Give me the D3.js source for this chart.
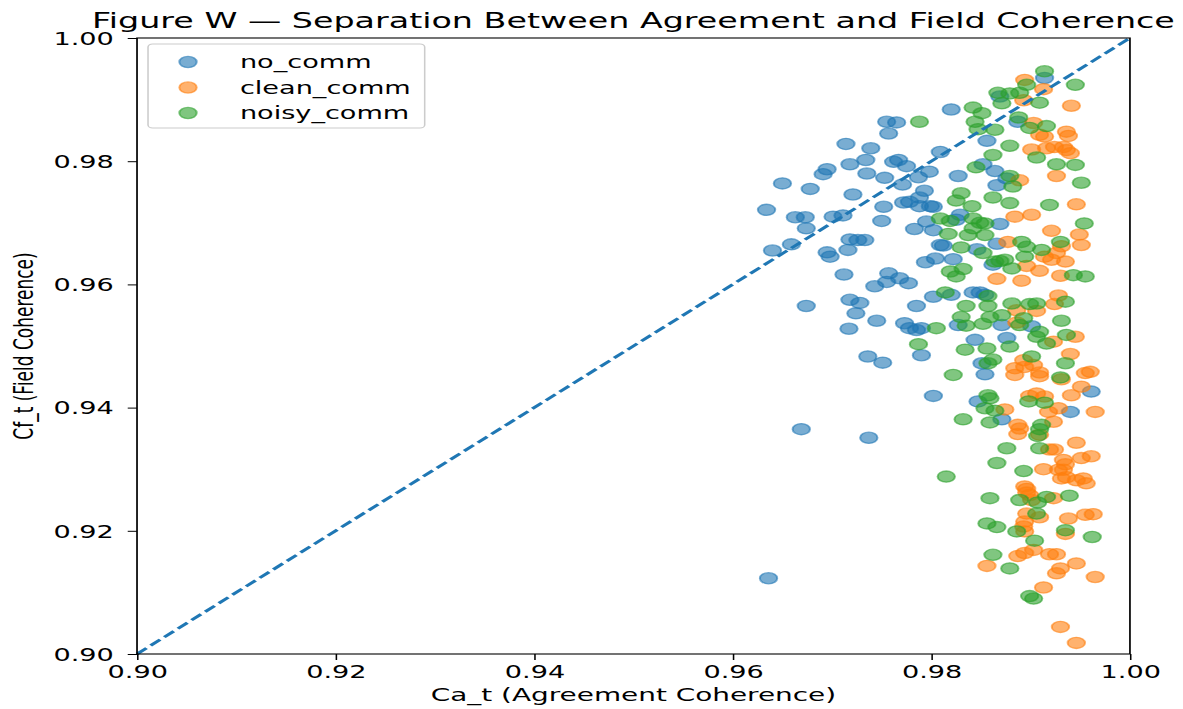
<!DOCTYPE html>
<html lang="en">
  <head>
    <meta charset="UTF-8" />
    <script src="https://cdn.jsdelivr.net/npm/d3@7"></script>
    <title>Figure W</title>
    <style>
      body {
        margin: 0;
        background: #fff;
      }
      text {
        font-family: "DejaVu Sans", sans-serif;
        fill: #000;
      }
    </style>
  </head>
  <body>
    <script>
      /*------------------- data (Ca_t, Cf_t) -------------------*/
      const noComm = [
        [0.9636,0.9123],[0.9669,0.9365],[0.9737,0.9351],[0.9634,0.9721],[0.9640,0.9655],[0.9650,0.9764],
        [0.9659,0.9665],[0.9663,0.9709],[0.9673,0.9709],[0.9674,0.9691],[0.9674,0.9565],[0.9678,0.9755],
        [0.9691,0.9779],[0.9695,0.9787],[0.9695,0.9652],[0.9698,0.9645],[0.9701,0.9710],[0.9711,0.9712],
        [0.9714,0.9828],[0.9712,0.9616],[0.9718,0.9795],[0.9716,0.9656],[0.9718,0.9673],[0.9718,0.9575],
        [0.9717,0.9528],[0.9721,0.9746],[0.9724,0.9553],[0.9726,0.9672],[0.9728,0.9570],[0.9733,0.9672],
        [0.9734,0.9802],[0.9735,0.9780],[0.9736,0.9483],[0.9739,0.9821],[0.9743,0.9597],[0.9745,0.9541],
        [0.9751,0.9473],[0.9750,0.9703],[0.9752,0.9726],[0.9753,0.9773],[0.9755,0.9864],[0.9757,0.9845],
        [0.9755,0.9604],[0.9757,0.9618],[0.9765,0.9863],[0.9762,0.9799],[0.9767,0.9802],[0.9768,0.9610],
        [0.9771,0.9762],[0.9772,0.9733],[0.9773,0.9537],[0.9775,0.9792],[0.9777,0.9602],[0.9778,0.9734],
        [0.9778,0.9529],[0.9783,0.9690],[0.9785,0.9565],[0.9785,0.9526],[0.9787,0.9774],[0.9788,0.9741],
        [0.9788,0.9727],[0.9790,0.9529],[0.9790,0.9485],[0.9793,0.9752],[0.9794,0.9636],[0.9795,0.9702],
        [0.9798,0.9783],[0.9799,0.9727],[0.9802,0.9726],[0.9802,0.9688],[0.9804,0.9642],[0.9802,0.9580],
        [0.9802,0.9419],[0.9809,0.9815],[0.9809,0.9664],[0.9820,0.9884],[0.9827,0.9776],[0.9829,0.9713],
        [0.9825,0.9705],[0.9869,0.9698],[0.9812,0.9663],[0.9846,0.9657],[0.9866,0.9666],[0.9822,0.9641],
        [0.9862,0.9632],[0.9820,0.9583],[0.9842,0.9587],[0.9849,0.9587],[0.9854,0.9583],[0.9827,0.9534],
        [0.9871,0.9534],[0.9901,0.9532],[0.9844,0.9510],[0.9876,0.9513],[0.9851,0.9472],[0.9854,0.9454],
        [0.9847,0.9410],[0.9871,0.9381],[0.9940,0.9393],[0.9961,0.9426],[0.9914,0.9935],[0.9869,0.9905],
        [0.9887,0.9864],[0.9856,0.9833],[0.9852,0.9795],[0.9864,0.9784],[0.9876,0.9772],[0.9866,0.9761]
      ];

      const cleanComm = [
        [0.9894,0.9932],[0.9913,0.9917],[0.9893,0.9899],[0.9941,0.9890],[0.9903,0.9862],[0.9909,0.9843],
        [0.9914,0.9840],[0.9936,0.9848],[0.9938,0.9841],[0.9901,0.9819],[0.9916,0.9821],[0.9924,0.9823],
        [0.9933,0.9823],[0.9936,0.9818],[0.9940,0.9813],[0.9889,0.9769],[0.9926,0.9776],[0.9946,0.9730],
        [0.9884,0.9710],[0.9901,0.9713],[0.9921,0.9687],[0.9949,0.9681],[0.9877,0.9669],[0.9931,0.9662],
        [0.9951,0.9664],[0.9926,0.9651],[0.9914,0.9645],[0.9921,0.9640],[0.9935,0.9637],[0.9896,0.9630],
        [0.9909,0.9622],[0.9866,0.9609],[0.9891,0.9606],[0.9930,0.9614],[0.9928,0.9582],[0.9924,0.9568],
        [0.9886,0.9558],[0.9906,0.9557],[0.9886,0.9538],[0.9923,0.9507],[0.9945,0.9515],[0.9940,0.9487],
        [0.9893,0.9477],[0.9884,0.9464],[0.9884,0.9453],[0.9894,0.9466],[0.9903,0.9469],[0.9909,0.9457],
        [0.9909,0.9451],[0.9931,0.9446],[0.9955,0.9456],[0.9960,0.9458],[0.9874,0.9397],[0.9899,0.9419],
        [0.9906,0.9423],[0.9914,0.9418],[0.9918,0.9393],[0.9928,0.9399],[0.9951,0.9434],[0.9941,0.9420],
        [0.9965,0.9393],[0.9923,0.9377],[0.9887,0.9372],[0.9889,0.9366],[0.9887,0.9357],[0.9909,0.9356],
        [0.9919,0.9332],[0.9924,0.9332],[0.9946,0.9343],[0.9961,0.9321],[0.9951,0.9318],[0.9933,0.9315],
        [0.9935,0.9308],[0.9933,0.9299],[0.9913,0.9300],[0.9928,0.9299],[0.9936,0.9287],[0.9946,0.9282],
        [0.9953,0.9285],[0.9956,0.9277],[0.9931,0.9285],[0.9894,0.9272],[0.9896,0.9268],[0.9896,0.9262],
        [0.9923,0.9253],[0.9899,0.9258],[0.9901,0.9250],[0.9896,0.9228],[0.9909,0.9222],[0.9938,0.9220],
        [0.9955,0.9226],[0.9963,0.9227],[0.9894,0.9215],[0.9893,0.9207],[0.9894,0.9199],[0.9935,0.9195],
        [0.9887,0.9159],[0.9894,0.9164],[0.9903,0.9169],[0.9919,0.9162],[0.9926,0.9162],[0.9856,0.9143],
        [0.9930,0.9139],[0.9926,0.9131],[0.9946,0.9147],[0.9965,0.9125],[0.9913,0.9108],[0.9930,0.9044],
        [0.9946,0.9018]
      ];

      const noisyComm = [
        [0.9914,0.9946],[0.9896,0.9924],[0.9945,0.9924],[0.9867,0.9911],[0.9879,0.9910],[0.9889,0.9911],
        [0.9871,0.9894],[0.9909,0.9895],[0.9842,0.9887],[0.9851,0.9878],[0.9844,0.9864],[0.9888,0.9871],
        [0.9899,0.9854],[0.9916,0.9857],[0.9847,0.9852],[0.9864,0.9851],[0.9788,0.9864],[0.9879,0.9825],
        [0.9862,0.9810],[0.9906,0.9806],[0.9845,0.9790],[0.9926,0.9795],[0.9945,0.9794],[0.9879,0.9776],
        [0.9882,0.9759],[0.9951,0.9765],[0.9830,0.9748],[0.9825,0.9736],[0.9862,0.9741],[0.9841,0.9727],
        [0.9879,0.9732],[0.9919,0.9729],[0.9954,0.9699],[0.9809,0.9707],[0.9819,0.9703],[0.9842,0.9707],
        [0.9849,0.9700],[0.9854,0.9699],[0.9842,0.9691],[0.9817,0.9682],[0.9837,0.9680],[0.9854,0.9680],
        [0.9830,0.9660],[0.9852,0.9651],[0.9891,0.9669],[0.9896,0.9661],[0.9930,0.9669],[0.9911,0.9656],
        [0.9894,0.9645],[0.9864,0.9637],[0.9869,0.9638],[0.9874,0.9640],[0.9881,0.9626],[0.9819,0.9621],
        [0.9832,0.9625],[0.9825,0.9613],[0.9943,0.9615],[0.9955,0.9613],[0.9814,0.9587],[0.9857,0.9581],
        [0.9835,0.9565],[0.9857,0.9565],[0.9881,0.9569],[0.9899,0.9568],[0.9906,0.9569],[0.9935,0.9572],
        [0.9830,0.9547],[0.9835,0.9533],[0.9852,0.9536],[0.9859,0.9547],[0.9871,0.9550],[0.9893,0.9545],
        [0.9889,0.9534],[0.9931,0.9541],[0.9909,0.9523],[0.9906,0.9515],[0.9916,0.9504],[0.9936,0.9518],
        [0.9834,0.9494],[0.9856,0.9496],[0.9879,0.9499],[0.9862,0.9478],[0.9857,0.9472],[0.9901,0.9483],
        [0.9935,0.9472],[0.9930,0.9449],[0.9822,0.9453],[0.9857,0.9420],[0.9859,0.9415],[0.9854,0.9399],
        [0.9864,0.9395],[0.9859,0.9376],[0.9832,0.9381],[0.9898,0.9410],[0.9914,0.9408],[0.9911,0.9372],
        [0.9909,0.9365],[0.9907,0.9354],[0.9876,0.9334],[0.9909,0.9334],[0.9866,0.9310],[0.9893,0.9297],
        [0.9815,0.9288],[0.9859,0.9253],[0.9889,0.9250],[0.9916,0.9255],[0.9939,0.9257],[0.9907,0.9246],
        [0.9906,0.9228],[0.9856,0.9212],[0.9866,0.9206],[0.9886,0.9199],[0.9935,0.9201],[0.9962,0.9190],
        [0.9904,0.9184],[0.9862,0.9161],[0.9879,0.9139],[0.9899,0.9094],[0.9903,0.9090],[0.9787,0.9503],
        [0.9805,0.9529]
      ];

      const seriesNames = ["no_comm", "clean_comm", "noisy_comm"];
      const seriesColors = ["#1f77b4", "#ff7f0e", "#2ca02c"];
      const xTicks = [0.9, 0.92, 0.94, 0.96, 0.98, 1.0];
      const yTicks = [0.9, 0.92, 0.94, 0.96, 0.98, 1.0];

      /*------------------- page setting -------------------*/
      // the figure is drawn narrow and then stretched sideways
      const W = 1183;
      const H = 709;
      const sx = 1.55;

      const x = d3.scaleLinear().domain([0.9, 1.0]).range([88.4, 729]);
      const y = d3.scaleLinear().domain([0.9, 1.0]).range([654, 38]);

      const svg = d3
        .select("body")
        .append("svg")
        .attr("width", W)
        .attr("height", H);

      const g = svg.append("g").attr("transform", `scale(${sx},1)`);

      /*------------------- points -------------------*/
      const allSeries = [noComm, cleanComm, noisyComm];
      allSeries.forEach((pts, i) => {
        g.append("g")
          .selectAll("circle")
          .data(pts)
          .enter()
          .append("circle")
          .attr("cx", (d) => x(d[0]))
          .attr("cy", (d) => y(d[1]))
          .attr("r", 5.6)
          .attr("fill", seriesColors[i])
          .attr("fill-opacity", 0.6)
          .attr("stroke", seriesColors[i])
          .attr("stroke-opacity", 0.6)
          .attr("stroke-width", 1.3);
      });

      // y = x reference line
      g.append("line")
        .attr("x1", x(0.9))
        .attr("y1", y(0.9))
        .attr("x2", x(1.0))
        .attr("y2", y(1.0))
        .attr("stroke", "#1f77b4")
        .attr("stroke-width", 2.6)
        .attr("stroke-dasharray", "8.5 3.7");

      /*------------------- axes -------------------*/
      const fmt = d3.format(".2f");
      const xAxis = g
        .append("g")
        .attr("transform", `translate(0,${y(0.9)})`)
        .call(d3.axisBottom(x).tickValues(xTicks).tickFormat(fmt).tickSizeOuter(0).tickSize(6).tickPadding(6));
      const yAxis = g
        .append("g")
        .attr("transform", `translate(${x(0.9)},0)`)
        .call(d3.axisLeft(y).tickValues(yTicks).tickFormat(fmt).tickSizeOuter(0).tickSize(6).tickPadding(9));

      [xAxis, yAxis].forEach((a) => {
        a.select(".domain").remove();
        a.selectAll(".tick line").attr("stroke", "#000").attr("stroke-width", 1);
        a.selectAll(".tick text")
          .style("font-family", "DejaVu Sans")
          .style("font-size", "17.5px")
          .attr("fill", "#000");
      });
      yAxis.selectAll(".tick text").attr("dy", "0.36em");

      // frame
      g.append("rect")
        .attr("x", x(0.9))
        .attr("y", y(1.0))
        .attr("width", x(1.0) - x(0.9))
        .attr("height", y(0.9) - y(1.0))
        .attr("fill", "none")
        .attr("stroke", "#000")
        .attr("stroke-width", 1.1);

      /*------------------- texts -------------------*/
      g.append("text")
        .attr("x", (x(0.9) + x(1.0)) / 2)
        .attr("y", 28)
        .attr("text-anchor", "middle")
        .style("font-size", "21.5px")
        .text("Figure W \u2014 Separation Between Agreement and Field Coherence");

      g.append("text")
        .attr("x", (x(0.9) + x(1.0)) / 2)
        .attr("y", 701)
        .attr("text-anchor", "middle")
        .style("font-size", "18px")
        .text("Ca_t (Agreement Coherence)");

      g.append("text")
        .attr("transform", `translate(21,${(y(0.9) + y(1.0)) / 2}) rotate(-90)`)
        .attr("text-anchor", "middle")
        .style("font-size", "17px")
        .text("Cf_t (Field Coherence)");

      /*------------------- legend -------------------*/
      const legend = g.append("g");
      legend
        .append("rect")
        .attr("x", 95.5)
        .attr("y", 44)
        .attr("width", 178.5)
        .attr("height", 84)
        .attr("rx", 3)
        .attr("fill", "#fff")
        .attr("fill-opacity", 0.8)
        .attr("stroke", "#cccccc")
        .attr("stroke-width", 1);

      seriesNames.forEach((name, i) => {
        const ly = 62 + i * 25.5;
        legend
          .append("circle")
          .attr("cx", 121.3)
          .attr("cy", ly)
          .attr("r", 5.6)
          .attr("fill", seriesColors[i])
          .attr("fill-opacity", 0.6)
          .attr("stroke", seriesColors[i])
          .attr("stroke-opacity", 0.6)
          .attr("stroke-width", 1.3);
        legend
          .append("text")
          .attr("x", 154.8)
          .attr("y", ly)
          .attr("dy", "0.35em")
          .style("font-size", "17.5px")
          .text(name);
      });
    </script>
  </body>
</html>
